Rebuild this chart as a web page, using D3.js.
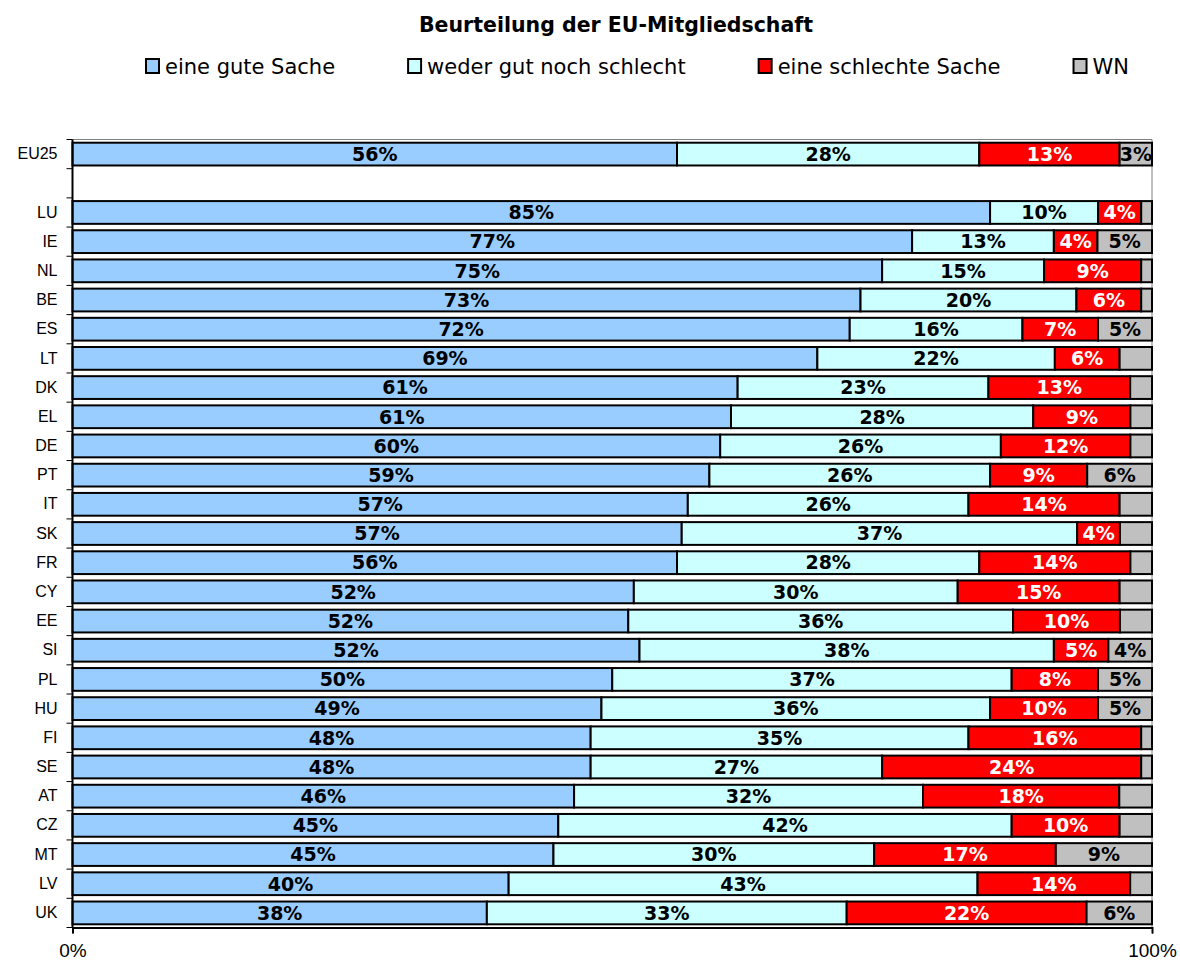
<!DOCTYPE html>
<html>
<head>
<meta charset="utf-8">
<script src="https://cdn.jsdelivr.net/npm/d3@7"></script>
<style>
  body { margin: 0; background: #fff; }
  svg { display: block; font-family: "DejaVu Sans", Verdana, sans-serif; }
</style>
</head>
<body>
<svg id="chart" width="1180" height="962"></svg>
<script>
// data (blank row between EU25 and the countries)
const countries = ['EU25', ' ', 'LU', 'IE', 'NL', 'BE', 'ES', 'LT', 'DK', 'EL', 'DE', 'PT', 'IT', 'SK',
  'FR', 'CY', 'EE', 'SI', 'PL', 'HU', 'FI', 'SE', 'AT', 'CZ', 'MT', 'LV', 'UK'];
const good    = [56, 0, 85, 77, 75, 73, 72, 69, 61, 61, 60, 59, 57, 57, 56, 52, 52, 52, 50, 49, 48, 48, 46, 45, 45, 40, 38];
const neither = [28, 0, 10, 13, 15, 20, 16, 22, 23, 28, 26, 26, 26, 37, 28, 30, 36, 38, 37, 36, 35, 27, 32, 42, 30, 43, 33];
const bad     = [13, 0, 4, 4, 9, 6, 7, 6, 13, 9, 12, 9, 14, 4, 14, 15, 10, 5, 8, 10, 16, 24, 18, 10, 17, 14, 22];
const wn      = [3, 0, 1, 5, 1, 1, 5, 3, 2, 2, 2, 6, 3, 3, 2, 3, 3, 4, 5, 5, 1, 1, 3, 3, 9, 2, 6];
// WN shares that carry a label in the original
const wnLabelled = ['EU25', 'IE', 'ES', 'PT', 'SI', 'PL', 'HU', 'MT', 'UK'];

const seriesNames = ['eine gute Sache', 'weder gut noch schlecht', 'eine schlechte Sache', 'WN'];
const seriesKeys = ['good', 'neither', 'bad', 'wn'];
const seriesColors = ['#99CCFF', '#CCFFFF', '#FF0000', '#C0C0C0'];
const xTicks = [0, 1];
const title = 'Beurteilung der EU-Mitgliedschaft';

const rows = countries.map((c, i) => ({
  country: c, good: good[i], neither: neither[i], bad: bad[i], wn: wn[i]
}));

// layout
const margin = { top: 139.5, right: 28, bottom: 34.5, left: 72.5 };
const width = 1180, height = 962;
const plotW = width - margin.left - margin.right;
const plotH = height - margin.top - margin.bottom;

const svg = d3.select('#chart');

const x = d3.scaleLinear().domain([0, 1]).range([0, plotW]);
const y = d3.scaleBand().domain(countries).range([0, plotH]).paddingInner(0.22).paddingOuter(0.11);
const color = d3.scaleOrdinal().domain(seriesKeys).range(seriesColors);

const stacked = d3.stack().keys(seriesKeys).offset(d3.stackOffsetExpand)(rows);

// title
svg.append('text')
  .attr('x', 616)
  .attr('y', 31.5)
  .attr('text-anchor', 'middle')
  .style('font-weight', 'bold')
  .style('font-size', '20.5px')
  .text(title);

// legend, items spaced like the original (fixed gap after each text)
const legend = svg.append('g').attr('class', 'legend');
const legendItems = legend.selectAll('g')
  .data(seriesKeys)
  .join('g');

legendItems.append('rect')
  .attr('x', 1).attr('y', -7)
  .attr('width', 13).attr('height', 14)
  .attr('fill', d => color(d))
  .attr('stroke', '#000')
  .attr('stroke-width', 2);

legendItems.append('text')
  .attr('x', 20).attr('y', 8)
  .style('font-size', '21px')
  .text((d, i) => seriesNames[i]);

let lx = 0;
legendItems.each(function () {
  const g = d3.select(this);
  g.attr('transform', `translate(${lx}, 66)`);
  lx += 20 + g.select('text').node().getComputedTextLength() + 72;
});
const legendWidth = lx - 72;
legend.attr('transform', `translate(${637 - legendWidth / 2}, 0)`);

const plot = svg.append('g')
  .attr('transform', `translate(${margin.left}, ${margin.top})`);

// plot frame (top and right)
plot.append('path')
  .attr('d', `M0,0H${plotW}V${plotH}`)
  .attr('fill', 'none')
  .attr('stroke', '#808080')
  .attr('stroke-width', 1);

// bars
const layers = plot.selectAll('.layer')
  .data(stacked)
  .join('g')
    .attr('class', 'layer')
    .attr('fill', d => color(d.key));

layers.selectAll('rect')
  .data(d => d.filter(s => s.data.country.trim() !== ''))
  .join('rect')
    .attr('x', d => x(d[0]))
    .attr('y', d => y(d.data.country))
    .attr('width', d => x(d[1]) - x(d[0]))
    .attr('height', y.bandwidth())
    .attr('stroke', '#000')
    .attr('stroke-width', 2);

// value labels
layers.each(function (layer) {
  const key = layer.key;
  d3.select(this).selectAll('text')
    .data(layer.filter(s => s.data.country.trim() !== '' &&
      (key !== 'wn' || wnLabelled.includes(s.data.country))))
    .join('text')
      .attr('x', d => x((d[0] + d[1]) / 2))
      .attr('y', d => y(d.data.country) + y.bandwidth() / 2 + 6.8)
      .attr('text-anchor', 'middle')
      .attr('fill', key === 'bad' ? '#fff' : '#000')
      .style('font-weight', 'bold')
      .style('font-size', '19px')
      .text(d => d.data[key] + '%');
});

// y axis
const yAxis = plot.append('g')
  .call(d3.axisLeft(y).tickSize(0).tickPadding(15));
yAxis.select('.domain').remove();
yAxis.selectAll('text').style('font-size', '16px').attr('fill', '#000');

// category boundary ticks
const step = y.step();
plot.append('g')
  .selectAll('line')
  .data(d3.range(countries.length + 1))
  .join('line')
    .attr('x1', -6).attr('x2', 0)
    .attr('y1', i => i * step).attr('y2', i => i * step)
    .attr('stroke', '#000').attr('stroke-width', 1);

plot.append('line')
  .attr('x1', 0).attr('x2', 0)
  .attr('y1', 0).attr('y2', plotH)
  .attr('stroke', '#000').attr('stroke-width', 2);

// x axis
const xAxis = plot.append('g')
  .attr('transform', `translate(0, ${plotH})`)
  .call(d3.axisBottom(x).tickValues(xTicks).tickFormat(d3.format('.0%')).tickSizeOuter(0).tickSize(6).tickPadding(10));
xAxis.select('.domain').attr('stroke-width', 2);
xAxis.selectAll('text').style('font-size', '19px').attr('fill', '#000');
</script>
</body>
</html>
